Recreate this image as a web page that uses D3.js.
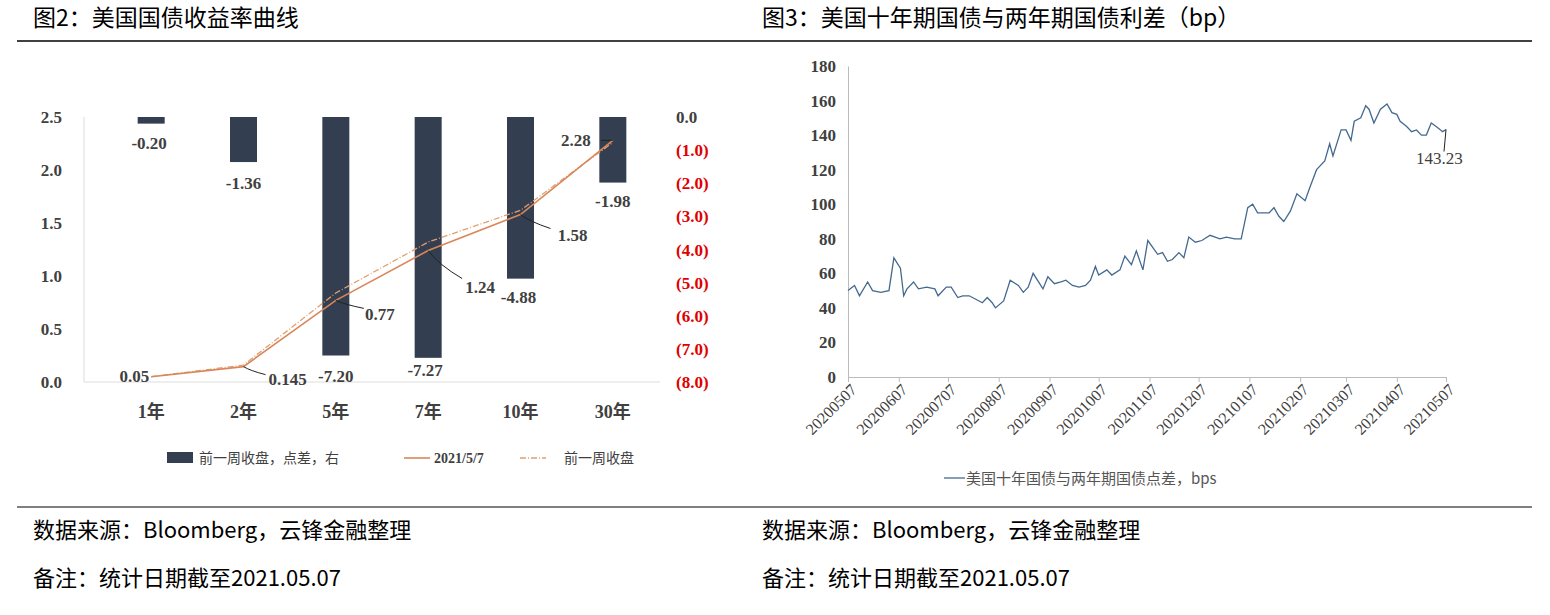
<!DOCTYPE html>
<html><head><meta charset="utf-8">
<script src="https://cdn.jsdelivr.net/npm/d3@7"></script>
<style>body{margin:0;background:#fff}</style>
</head><body>
<svg width="1550" height="615"></svg>
<script>
var tenors = ['1年', '2年', '5年', '7年', '10年', '30年']
var yieldNow = [0.05, 0.145, 0.77, 1.24, 1.58, 2.28]
var yieldPrev = [0.05, 0.16, 0.84, 1.32, 1.62, 2.26]
var weekChange = [-0.20, -1.36, -7.20, -7.27, -4.88, -1.98]
var nowLabels = ['0.05', '0.145', '0.77', '1.24', '1.58', '2.28']

var spreadDates = ['20200507','20200511','20200514','20200519','20200522','20200527','20200601','20200604','20200608','20200610','20200612','20200616','20200619','20200624','20200629','20200701','20200706','20200709','20200713','20200716','20200720','20200724','20200728','20200731','20200803','20200805','20200810','20200814','20200819','20200822','20200825','20200828','20200903','20200906','20200910','20200914','20200917','20200921','20200925','20200929','20201002','20201005','20201007','20201012','20201015','20201020','20201023','20201027','20201030','20201103','20201106','20201112','20201115','20201118','20201121','20201125','20201128','20201201','20201205','20201209','20201214','20201220','20201224','20201229','20210102','20210106','20210109','20210112','20210115','20210119','20210122','20210125','20210128','20210201','20210205','20210210','20210213','20210217','20210222','20210225','20210227','20210304','20210307','20210310','20210312','20210316','20210319','20210321','20210324','20210328','20210401','20210404','20210407','20210409','20210413','20210416','20210419','20210422','20210425','20210428','20210501','20210505','20210507']
var spreadValues = [50,53,47,55,50,49,50,69,63,47,51,55,51,52,51,47,52,52,46,47,47,45,43,46,43,40,44,56,53,49,52,60,51,58,54,55,56,53,52,53,56,64,59,62,59,62,70,65,73,62,79,71,72,67,68,72,69,81,78,79,82,80,81,80,80,98,100,95,95,95,98,93,90,96,106,102,110,120,125,135,128,143,143,137,148,150,157,155,147,155,158,153,152,148,145,142,143,140,140,147,145,142,143.23]
var monthTicks = ['20200507','20200607','20200707','20200807','20200907','20201007','20201107','20201207','20210107','20210207','20210307','20210407','20210507']

var svg = d3.select('svg')
var cjk = '"Noto Sans CJK SC", serif'
var serif = '"Liberation Serif", "Noto Sans CJK SC", serif'

// headers and footers
svg.append('text').attr('x', 33).attr('y', 26).attr('font-family', cjk).attr('font-size', 23).text('图2：美国国债收益率曲线')
svg.append('text').attr('x', 762).attr('y', 26).attr('font-family', cjk).attr('font-size', 23).text('图3：美国十年期国债与两年期国债利差（bp）')
svg.append('line').attr('x1', 17).attr('x2', 1532).attr('y1', 41).attr('y2', 41).attr('stroke', '#000').attr('stroke-width', 1.5)
svg.append('line').attr('x1', 17).attr('x2', 1532).attr('y1', 507).attr('y2', 507).attr('stroke', '#000').attr('stroke-width', 1)
;[33, 762].forEach(function(x){
  svg.append('text').attr('x', x).attr('y', 538).attr('font-family', cjk).attr('font-size', 22).text('数据来源：Bloomberg，云锋金融整理')
  svg.append('text').attr('x', x).attr('y', 586).attr('font-family', cjk).attr('font-size', 22).text('备注：统计日期截至2021.05.07')
})

// ---- left chart
var xp = d3.scalePoint().domain(tenors).range([105, 659]).padding(0.5)
var bw = 27
var yl = d3.scaleLinear().domain([0, 2.5]).range([382, 117])
var yr = d3.scaleLinear().domain([-8, 0]).range([382, 117])
var L = svg.append('g')
L.append('line').attr('x1', 84).attr('x2', 84).attr('y1', 117).attr('y2', 382).attr('stroke', '#ddd')
L.append('line').attr('x1', 84).attr('x2', 660).attr('y1', 382).attr('y2', 382).attr('stroke', '#ddd')
yl.ticks(5).forEach(function(t){
  L.append('text').attr('x', 62).attr('y', yl(t) + 6).attr('text-anchor', 'end').attr('font-family', serif).attr('font-size', 17).attr('font-weight', 'bold').attr('fill', '#404040').text(t.toFixed(1))
})
d3.range(0, 9).forEach(function(t){
  L.append('text').attr('x', 676).attr('y', yr(-t) + 6).attr('font-family', serif).attr('font-size', 17).attr('font-weight', 'bold')
    .attr('fill', t === 0 ? '#404040' : '#e00000').text(t === 0 ? '0.0' : '(' + t.toFixed(1) + ')')
})
tenors.forEach(function(c){
  L.append('text').attr('x', xp(c)).attr('y', 418).attr('text-anchor', 'middle').attr('font-family', serif).attr('font-size', 18).attr('font-weight', 'bold').attr('fill', '#404040').text(c)
})
L.selectAll('rect.bar').data(weekChange).enter().append('rect').attr('class', 'bar')
  .attr('x', function(d, i){ return xp(tenors[i]) - bw/2 }).attr('width', bw)
  .attr('y', yr(0)).attr('height', function(d){ return yr(d) - yr(0) }).attr('fill', '#333f50')
L.selectAll('text.bl').data(weekChange).enter().append('text').attr('class', 'bl')
  .attr('x', function(d, i){ return xp(tenors[i]) + [-2, 0, 0, -3, -2, 0][i] })
  .attr('y', function(d, i){ return yr(d) + [25, 27, 26, 18, 24, 24][i] })
  .attr('text-anchor', 'middle').attr('font-family', serif).attr('font-size', 17).attr('font-weight', 'bold').attr('fill', '#404040').text(function(d){ return d.toFixed(2) })
var cx = function(i){ return xp(tenors[i]) }
var lineL = d3.line().x(function(d, i){ return cx(i) }).y(function(d){ return yl(d) })
L.append('path').attr('d', lineL(yieldPrev)).attr('fill', 'none').attr('stroke', '#e0a070').attr('stroke-width', 1.3).attr('stroke-dasharray', '6,2,1,2')
L.append('path').attr('d', lineL(yieldNow)).attr('fill', 'none').attr('stroke', '#d9875a').attr('stroke-width', 1.6)
// value labels with leader lines: [leader dx, leader dy, text dx, text dy]
var lab = [[0, 0, -2, -1], [22, 8, 44, 12], [28, 8, 44, 14], [34, 28, 52, 36], [30, 14, 52, 20], [-12, 0, -22, 0]]
yieldNow.forEach(function(v, i){
  var x0 = cx(i), y0 = yl(v), o = lab[i]
  if (i > 0) L.append('path').attr('d', 'M' + x0 + ',' + y0 + 'Q' + (x0 + o[0]*0.3) + ',' + (y0 + o[1]*0.5) + ' ' + (x0 + o[0]) + ',' + (y0 + o[1])).attr('fill', 'none').attr('stroke', '#222').attr('stroke-width', 1)
  L.append('text').attr('x', x0 + o[2]).attr('y', y0 + o[3] + 6).attr('text-anchor', (i === 5 || i === 0) ? 'end' : 'middle')
    .attr('font-family', serif).attr('font-size', 17).attr('font-weight', 'bold').attr('fill', '#404040').text(nowLabels[i])
})
// legend
L.append('rect').attr('x', 167).attr('y', 452).attr('width', 26).attr('height', 11).attr('fill', '#333f50')
L.append('text').attr('x', 199).attr('y', 463).attr('font-family', cjk).attr('font-size', 14).attr('fill', '#404040').text('前一周收盘，点差，右')
L.append('line').attr('x1', 404).attr('x2', 430).attr('y1', 458).attr('y2', 458).attr('stroke', '#d9875a').attr('stroke-width', 1.6)
L.append('text').attr('x', 434).attr('y', 463).attr('font-family', serif).attr('font-size', 14).attr('font-weight', 'bold').attr('fill', '#404040').text('2021/5/7')
L.append('line').attr('x1', 520).attr('x2', 546).attr('y1', 458).attr('y2', 458).attr('stroke', '#e0a070').attr('stroke-width', 1.3).attr('stroke-dasharray', '6,2,1,2')
L.append('text').attr('x', 564).attr('y', 463).attr('font-family', cjk).attr('font-size', 14).attr('fill', '#404040').text('前一周收盘')

// ---- right chart
var parse = d3.timeParse('%Y%m%d')
var xt = d3.scaleTime().domain([parse('20200507'), parse('20210507')]).range([848, 1446])
var yt = d3.scaleLinear().domain([0, 180]).range([377, 66])
var R = svg.append('g')
R.append('g').attr('transform', 'translate(848,0)').call(d3.axisLeft(yt).ticks(9).tickSize(0).tickPadding(12))
  .call(function(g){ g.select('.domain').attr('stroke', '#bbb'); g.selectAll('text').attr('font-family', serif).attr('font-size', 17).attr('font-weight', 'bold').attr('fill', '#404040') })
R.append('g').attr('transform', 'translate(0,377)').call(d3.axisBottom(xt).tickValues(monthTicks.map(parse)).tickFormat(d3.timeFormat('%Y%m%d')).tickSize(5))
  .call(function(g){
    g.select('.domain').attr('stroke', '#bbb'); g.selectAll('line').attr('stroke', '#bbb')
    g.selectAll('text').attr('font-family', serif).attr('font-size', 16).attr('fill', '#404040')
      .attr('text-anchor', 'end').attr('transform', 'rotate(-45)').attr('dx', '-0.2em').attr('dy', '0.5em')
  })
var lineR = d3.line().x(function(d, i){ return xt(parse(spreadDates[i])) }).y(function(d){ return yt(d) })
R.append('path').attr('d', lineR(spreadValues)).attr('fill', 'none').attr('stroke', '#44698f').attr('stroke-width', 1.3)
var last = spreadValues.length - 1
R.append('line').attr('x1', xt(parse(spreadDates[last]))).attr('y1', yt(spreadValues[last]))
  .attr('x2', xt(parse(spreadDates[last])) - 2).attr('y2', yt(spreadValues[last]) + 22).attr('stroke', '#222')
R.append('text').attr('x', xt(parse(spreadDates[last])) - 30).attr('y', yt(spreadValues[last]) + 34).attr('font-family', serif).attr('font-size', 17).attr('fill', '#404040').text('143.23')
R.append('line').attr('x1', 944).attr('x2', 965).attr('y1', 478).attr('y2', 478).attr('stroke', '#44698f').attr('stroke-width', 1.3)
R.append('text').attr('x', 966).attr('y', 484).attr('font-family', cjk).attr('font-size', 15).attr('fill', '#555').text('美国十年国债与两年期国债点差，bps')
</script>
</body></html>
